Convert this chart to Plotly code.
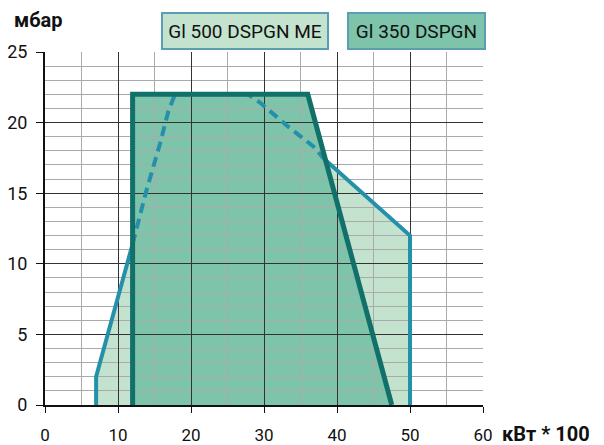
import plotly.graph_objects as go

# ---- data ----
# GI 500 DSPGN ME (light area, blue-teal outline)
me_left_x = [7, 7, 12]
me_left_y = [0, 2, 11.4]
me_dash_x = [12, 13.9, 15.75, 16.9, 17.8, 27.8, 29.5, 33.1, 36.8, 38.1]
me_dash_y = [11.4, 15.2, 18.5, 20.8, 22, 22, 21.4, 19.8, 18.3, 17.5]
me_right_x = [38.1, 50, 50]
me_right_y = [17.5, 12, 0]

# GI 350 DSPGN (darker area, dark teal outline)
dsp_x = [12, 12, 36, 47.5]
dsp_y = [0, 22, 22, 0]

x_ticks = [0, 10, 20, 30, 40, 50, 60]
y_ticks = [0, 5, 10, 15, 20, 25]
legend_names = ["Gl 500 DSPGN ME", "Gl 350 DSPGN"]

LIGHT_FILL = "#C3E3CE"
DARK_FILL = "#7DC4AB"
LIGHT_LINE = "#2590AA"
DARK_LINE = "#12706A"
BOX_BORDER = "#5B9DB2"
FONT = "Roboto"


def path_of(xs, ys):
    pts = [f"{x},{y}" for x, y in zip(xs, ys)]
    return "M " + " L ".join(pts) + " Z"


me_poly_x = me_left_x + me_dash_x[1:] + me_right_x[1:]
me_poly_y = me_left_y + me_dash_y[1:] + me_right_y[1:]

fig = go.Figure()

# outlines as traces (above grid)
fig.add_trace(go.Scatter(x=me_left_x, y=me_left_y, mode="lines",
                         line=dict(color=LIGHT_LINE, width=4), showlegend=False, hoverinfo="skip"))
fig.add_trace(go.Scatter(x=me_dash_x, y=me_dash_y, mode="lines",
                         line=dict(color=LIGHT_LINE, width=4, dash="10px,6px"),
                         showlegend=False, hoverinfo="skip"))
fig.add_trace(go.Scatter(x=me_right_x, y=me_right_y, mode="lines",
                         line=dict(color=LIGHT_LINE, width=4), showlegend=False, hoverinfo="skip"))
fig.add_trace(go.Scatter(x=dsp_x, y=dsp_y, mode="lines",
                         line=dict(color=DARK_LINE, width=5), showlegend=False, hoverinfo="skip"))

# fills as shapes below gridlines
fig.add_shape(type="path", path=path_of(me_poly_x, me_poly_y), xref="x", yref="y",
              fillcolor=LIGHT_FILL, line=dict(width=0), layer="below")
fig.add_shape(type="path", path=path_of(dsp_x, dsp_y), xref="x", yref="y",
              fillcolor=DARK_FILL, line=dict(width=0), layer="below")

fig.update_layout(
    width=604, height=445,
    margin=dict(l=45, r=121, t=52, b=40, autoexpand=False),
    paper_bgcolor="white", plot_bgcolor="white",
    font=dict(family=FONT, size=18, color="#111"),
    showlegend=False,
)
fig.update_xaxes(
    range=[0, 60], tickvals=x_ticks, ticktext=[str(v) for v in x_ticks],
    showgrid=True, gridcolor="#333", gridwidth=1,
    minor=dict(dtick=5, showgrid=True, gridcolor="#aaaaaa", gridwidth=1, ticks=""),
    showline=True, linecolor="#111", linewidth=2,
    ticks="outside", ticklen=6, tickcolor="#111", tickwidth=1,
    ticklabelstandoff=8, zeroline=False, automargin=False,
    tickfont=dict(size=17, family=FONT),
)
fig.update_yaxes(
    range=[0, 25], tickvals=y_ticks, ticktext=[str(v) for v in y_ticks],
    showgrid=True, gridcolor="#333", gridwidth=1,
    minor=dict(dtick=1, showgrid=True, gridcolor="#aaaaaa", gridwidth=1, ticks=""),
    showline=True, linecolor="#111", linewidth=2,
    ticks="outside", ticklen=7, tickcolor="#111", tickwidth=1,
    ticklabelstandoff=5, zeroline=False, automargin=False,
    tickfont=dict(size=18, family=FONT),
)

# axis titles
fig.add_annotation(text="<b>мбар</b>", xref="paper", yref="paper", x=-0.0753, y=1.0907,
                   xanchor="left", yanchor="middle", showarrow=False,
                   font=dict(size=20, family=FONT, color="#111"))
fig.add_annotation(text="<b>кВт * 100</b>", xref="paper", yref="paper", x=1.039, y=-0.0822,
                   xanchor="left", yanchor="middle", showarrow=False,
                   font=dict(size=20, family=FONT, color="#111"))

# legend boxes
fig.add_annotation(text=legend_names[0], xref="paper", yref="paper", x=0.4566, y=1.0595,
                   xanchor="center", yanchor="middle", showarrow=False,
                   width=164, height=34, bgcolor=LIGHT_FILL, bordercolor=BOX_BORDER,
                   borderwidth=2, borderpad=0, font=dict(size=19, family=FONT, color="#111"))
fig.add_annotation(text=legend_names[1], xref="paper", yref="paper", x=0.848, y=1.0595,
                   xanchor="center", yanchor="middle", showarrow=False,
                   width=135, height=34, bgcolor=DARK_FILL, bordercolor=BOX_BORDER,
                   borderwidth=2, borderpad=0, font=dict(size=19, family=FONT, color="#111"))

fig.write_html("out.html", config={"displayModeBar": False},
               post_script="document.body.style.margin='0px';")
